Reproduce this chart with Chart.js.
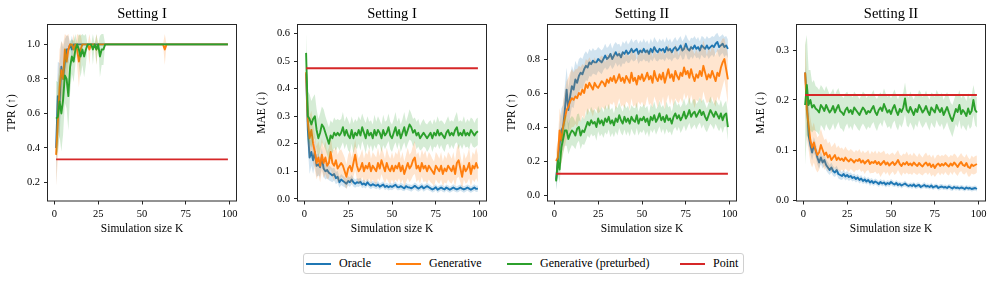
<!DOCTYPE html>
<html><head><meta charset="utf-8">
<script src="https://cdn.jsdelivr.net/npm/chart.js@4.4.0/dist/chart.umd.min.js"></script>
<style>
html,body{margin:0;padding:0;background:#fff;}
body{width:997px;height:283px;position:relative;overflow:hidden;font-family:"Liberation Serif","Times New Roman",serif;}
canvas{position:absolute;top:0;}
#legend{position:absolute;left:302.5px;top:253px;width:441px;height:21px;border:1px solid #d0d0d0;border-radius:3px;box-sizing:border-box;background:#fff;}
.item{position:absolute;top:0;height:100%;display:flex;align-items:center;font-size:12px;color:#000;white-space:nowrap;}
.item .ln{display:inline-block;width:25px;height:2px;margin-right:8px;}
</style></head><body>
<canvas id="c0"></canvas><canvas id="c1"></canvas><canvas id="c2"></canvas><canvas id="c3"></canvas>
<div id="legend"></div>
<script>
// ---------------- data ----------------
const K = [1,2,3,4,5,6,7,8,9,10,11,12,13,14,15,16,17,18,19,20,21,22,23,24,25,26,27,28,29,30,
31,32,33,34,35,36,37,38,39,40,41,42,43,44,45,46,47,48,49,50,51,52,53,54,55,56,57,58,59,60,
61,62,63,64,65,66,67,68,69,70,71,72,73,74,75,76,77,78,79,80,81,82,83,84,85,86,87,88,89,90,
91,92,93,94,95,96,97,98,99];

const seriesNames = ['Oracle','Generative','Generative (preturbed)','Point'];
const titles = ['Setting I','Setting I','Setting II','Setting II'];
const yLabels = ['TPR (↑)','MAE (↓)','TPR (↑)','MAE (↓)'];
const xLabel = 'Simulation size K';
const xTicks = [0,25,50,75,100];
const yTicks1 = [0.2,0.4,0.6,0.8,1.0];
const yTicks2 = [0.0,0.1,0.2,0.3,0.4,0.5,0.6];
const yTicks3 = [0.0,0.2,0.4,0.6,0.8];
const yTicks4 = [0.0,0.1,0.2,0.3];

// Point estimator (constant)
const pointTPR1 = 0.334, pointMAE1 = 0.474, pointTPR2 = 0.125, pointMAE2 = 0.21;

// Setting I, TPR
const tpr1O = [0.40,0.70,0.67,0.87,0.80,0.90,0.97,0.97,1.00,0.97,
1,1,1,1,1,1,1,1,1,1, 1,1,1,1,1,1,1,1,1,1, 1,1,1,1,1,1,1,1,1,1, 1,1,1,1,1,1,1,1,1,1,
1,1,1,1,1,1,1,1,1,1, 1,1,1,1,1,1,1,1,1,1, 1,1,1,1,1,1,1,1,1,1, 1,1,1,1,1,1,1,1,1,1, 1,1,1,1,1,1,1,1,1];
const tpr1G = [0.36,0.55,0.75,0.85,0.80,0.97,0.90,0.97,1.00,1.00,
0.97,1.00,0.97,0.90,0.97,1.00,1.00,1.00,1.00,0.97,
1.00,1.00,1.00,0.97,1.00,1.00,1.00,1.00,1.00,1.00,
1,1,1,1,1,1,1,1,1,1, 1,1,1,1,1,1,1,1,1,1, 1,1,1,1,1,1,1,1,1,1,
1,1,0.97,1,1,1,1,1,1,1, 1,1,1,1,1,1,1,1,1,1, 1,1,1,1,1,1,1,1,1,1, 1,1,1,1,1,1,1,1,1];
const tpr1P = [0.57,0.58,0.67,0.60,0.68,0.82,0.80,0.70,0.87,0.93,
0.90,0.97,1.00,0.97,0.93,0.97,0.93,0.97,1.00,1.00,
1.00,0.97,1.00,0.97,1.00,0.93,0.97,0.97,1.00,1.00,
1,1,1,1,1,1,1,1,1,1, 1,1,1,1,1,1,1,1,1,1, 1,1,1,1,1,1,1,1,1,1,
1,1,1,1,1,1,1,1,1,1, 1,1,1,1,1,1,1,1,1,1, 1,1,1,1,1,1,1,1,1,1, 1,1,1,1,1,1,1,1,1];
const sd1O = [0.22,0.20,0.22,0.15,0.18,0.13,0.08,0.08,0,0.08,
0,0,0,0,0,0,0,0,0,0, 0,0,0,0,0,0,0,0,0,0, 0,0,0,0,0,0,0,0,0,0, 0,0,0,0,0,0,0,0,0,0,
0,0,0,0,0,0,0,0,0,0, 0,0,0,0,0,0,0,0,0,0, 0,0,0,0,0,0,0,0,0,0, 0,0,0,0,0,0,0,0,0,0, 0,0,0,0,0,0,0,0,0];
const sd1G = [0.18,0.22,0.22,0.17,0.20,0.09,0.15,0.09,0,0,
0.09,0,0.09,0.15,0.09,0,0,0,0,0.09,
0,0,0,0.09,0,0,0,0,0,0,
0,0,0,0,0,0,0,0,0,0, 0,0,0,0,0,0,0,0,0,0, 0,0,0,0,0,0,0,0,0,0,
0,0,0.09,0,0,0,0,0,0,0, 0,0,0,0,0,0,0,0,0,0, 0,0,0,0,0,0,0,0,0,0, 0,0,0,0,0,0,0,0,0];
const sd1P = [0.22,0.20,0.20,0.22,0.20,0.16,0.17,0.20,0.15,0.10,
0.12,0.09,0,0.09,0.12,0.09,0.12,0.09,0,0,
0,0.09,0,0.09,0,0.12,0.09,0.09,0,0,
0,0,0,0,0,0,0,0,0,0, 0,0,0,0,0,0,0,0,0,0, 0,0,0,0,0,0,0,0,0,0,
0,0,0,0,0,0,0,0,0,0, 0,0,0,0,0,0,0,0,0,0, 0,0,0,0,0,0,0,0,0,0, 0,0,0,0,0,0,0,0,0];

// Setting I, MAE
const mae1O = [0.455,0.25,0.15,0.17,0.14,0.17,0.12,0.125,0.115,0.15,
0.11,0.10,0.105,0.095,0.09,0.085,0.09,0.075,0.08,0.06,
0.07,0.065,0.06,0.055,0.065,0.06,0.07,0.06,0.055,0.06,
0.058,0.062,0.052,0.056,0.05,0.06,0.052,0.048,0.053,0.05,
0.047,0.052,0.044,0.048,0.052,0.043,0.047,0.042,0.046,0.043,
0.047,0.051,0.043,0.042,0.046,0.042,0.038,0.046,0.042,0.041,
0.038,0.042,0.047,0.042,0.037,0.041,0.046,0.038,0.042,0.046,
0.042,0.038,0.034,0.037,0.042,0.033,0.037,0.041,0.037,0.034,
0.041,0.037,0.033,0.037,0.041,0.037,0.034,0.037,0.041,0.037,
0.034,0.037,0.041,0.037,0.033,0.037,0.041,0.036,0.037];
const mae1G = [0.46,0.28,0.22,0.25,0.20,0.17,0.13,0.15,0.12,0.16,
0.13,0.15,0.12,0.13,0.17,0.13,0.12,0.14,0.11,0.12,
0.13,0.12,0.10,0.08,0.11,0.12,0.10,0.13,0.16,0.12,
0.10,0.11,0.13,0.10,0.12,0.11,0.13,0.10,0.12,0.11,
0.10,0.13,0.11,0.14,0.12,0.10,0.13,0.11,0.10,0.12,
0.10,0.12,0.11,0.13,0.10,0.12,0.09,0.11,0.13,0.11,
0.12,0.14,0.15,0.11,0.12,0.10,0.13,0.11,0.12,0.10,
0.12,0.11,0.10,0.09,0.12,0.11,0.10,0.12,0.09,0.11,
0.10,0.12,0.11,0.10,0.12,0.09,0.13,0.14,0.11,0.08,
0.12,0.10,0.11,0.13,0.09,0.12,0.11,0.13,0.11];
const mae1P = [0.53,0.30,0.29,0.27,0.29,0.30,0.25,0.22,0.24,0.27,
0.26,0.24,0.22,0.20,0.23,0.22,0.24,0.23,0.24,0.23,
0.24,0.26,0.23,0.25,0.23,0.22,0.25,0.22,0.24,0.23,
0.25,0.23,0.26,0.24,0.22,0.25,0.23,0.24,0.22,0.25,
0.23,0.25,0.24,0.22,0.25,0.23,0.24,0.26,0.23,0.22,
0.24,0.26,0.23,0.25,0.22,0.24,0.26,0.23,0.25,0.27,
0.26,0.24,0.25,0.23,0.24,0.22,0.23,0.24,0.23,0.22,
0.23,0.24,0.22,0.24,0.23,0.25,0.23,0.24,0.23,0.22,
0.24,0.25,0.23,0.24,0.23,0.25,0.26,0.23,0.24,0.23,
0.25,0.23,0.24,0.23,0.25,0.24,0.23,0.24,0.245];
const sd2O = [0.06,0.07,0.06,0.05,0.05,0.045,0.04,0.04,0.035,0.035,
0.03,0.03,0.03,0.028,0.026,0.025,0.024,0.022,0.022,0.02,
0.02,0.019,0.018,0.018,0.017,0.017,0.016,0.016,0.015,0.015,
0.015,0.014,0.014,0.014,0.013,0.013,0.013,0.013,0.012,0.012,
0.012,0.013,0.012,0.011,0.012,0.012,0.011,0.012,0.013,0.012,
0.011,0.012,0.012,0.011,0.012,0.013,0.011,0.012,0.011,0.012,
0.012,0.011,0.012,0.013,0.011,0.012,0.011,0.012,0.012,0.011,
0.012,0.011,0.011,0.012,0.011,0.012,0.011,0.011,0.012,0.011,
0.011,0.012,0.011,0.011,0.012,0.011,0.011,0.012,0.011,0.011,
0.012,0.011,0.011,0.012,0.011,0.011,0.012,0.011,0.011];
const sd2G = [0.05,0.08,0.08,0.07,0.07,0.065,0.06,0.06,0.06,0.06,
0.055,0.06,0.05,0.055,0.06,0.05,0.055,0.05,0.05,0.055,
0.05,0.045,0.05,0.045,0.05,0.055,0.05,0.05,0.055,0.05,
0.045,0.05,0.05,0.045,0.05,0.05,0.055,0.045,0.05,0.05,
0.05,0.055,0.045,0.05,0.05,0.045,0.055,0.05,0.045,0.05,
0.045,0.05,0.05,0.055,0.045,0.05,0.045,0.05,0.055,0.05,
0.05,0.055,0.06,0.05,0.05,0.045,0.05,0.05,0.055,0.045,
0.05,0.05,0.045,0.045,0.05,0.05,0.045,0.05,0.045,0.05,
0.045,0.05,0.05,0.045,0.05,0.045,0.055,0.06,0.05,0.045,
0.05,0.045,0.05,0.055,0.045,0.05,0.05,0.055,0.05];
const sd2P = [0.07,0.09,0.09,0.085,0.08,0.08,0.075,0.07,0.07,0.065,
0.065,0.06,0.06,0.06,0.055,0.055,0.055,0.055,0.05,0.055,
0.05,0.055,0.05,0.05,0.055,0.05,0.05,0.055,0.05,0.05,
0.05,0.055,0.05,0.05,0.055,0.05,0.05,0.045,0.05,0.055,
0.05,0.05,0.045,0.05,0.055,0.05,0.045,0.05,0.05,0.05,
0.05,0.055,0.05,0.045,0.05,0.05,0.055,0.05,0.05,0.055,
0.05,0.05,0.045,0.05,0.05,0.045,0.05,0.05,0.045,0.05,
0.05,0.045,0.05,0.05,0.045,0.05,0.05,0.045,0.05,0.05,
0.045,0.05,0.05,0.045,0.05,0.05,0.055,0.05,0.045,0.05,
0.05,0.045,0.05,0.05,0.045,0.05,0.045,0.05,0.05];

// Setting II, TPR
const tpr2O = [0.09,0.20,0.30,0.38,0.40,0.50,0.62,0.50,0.58,0.64,
0.62,0.68,0.66,0.70,0.72,0.71,0.74,0.76,0.75,0.78,
0.77,0.79,0.78,0.78,0.80,0.79,0.78,0.80,0.82,0.80,
0.81,0.83,0.80,0.82,0.84,0.82,0.83,0.81,0.84,0.83,
0.85,0.83,0.84,0.86,0.84,0.85,0.86,0.83,0.85,0.84,
0.86,0.84,0.85,0.83,0.86,0.84,0.87,0.85,0.84,0.86,
0.85,0.86,0.84,0.87,0.85,0.86,0.84,0.86,0.87,0.85,
0.86,0.88,0.85,0.86,0.89,0.86,0.85,0.87,0.86,0.88,
0.86,0.87,0.85,0.88,0.87,0.86,0.88,0.86,0.87,0.88,
0.87,0.89,0.90,0.87,0.88,0.89,0.87,0.88,0.86];
const tpr2G = [0.20,0.22,0.38,0.32,0.40,0.45,0.50,0.52,0.55,0.57,
0.56,0.58,0.57,0.60,0.59,0.62,0.60,0.65,0.63,0.66,
0.64,0.62,0.66,0.64,0.63,0.65,0.67,0.66,0.64,0.68,
0.66,0.69,0.67,0.70,0.66,0.68,0.71,0.67,0.69,0.66,
0.70,0.68,0.66,0.72,0.67,0.69,0.65,0.70,0.68,0.71,
0.67,0.69,0.72,0.68,0.70,0.66,0.73,0.69,0.67,0.71,
0.68,0.72,0.66,0.70,0.74,0.69,0.71,0.67,0.73,0.70,
0.68,0.72,0.70,0.75,0.71,0.73,0.69,0.74,0.70,0.67,
0.71,0.69,0.73,0.70,0.76,0.72,0.68,0.71,0.69,0.73,
0.70,0.67,0.72,0.70,0.75,0.78,0.80,0.74,0.68];
const tpr2P = [0.08,0.20,0.15,0.28,0.33,0.38,0.38,0.33,0.36,0.38,
0.37,0.35,0.39,0.40,0.35,0.38,0.37,0.40,0.43,0.41,
0.44,0.42,0.43,0.40,0.45,0.42,0.44,0.41,0.45,0.43,
0.46,0.42,0.44,0.41,0.45,0.43,0.47,0.44,0.42,0.46,
0.43,0.45,0.42,0.46,0.44,0.43,0.47,0.42,0.45,0.44,
0.46,0.43,0.45,0.41,0.46,0.44,0.47,0.43,0.45,0.48,
0.44,0.46,0.43,0.47,0.44,0.45,0.42,0.46,0.48,0.45,
0.47,0.44,0.46,0.49,0.45,0.47,0.50,0.46,0.48,0.49,
0.46,0.48,0.50,0.47,0.49,0.46,0.44,0.47,0.50,0.48,
0.46,0.49,0.47,0.45,0.48,0.44,0.47,0.48,0.40];
const sd3O = [0.06,0.10,0.12,0.13,0.13,0.14,0.13,0.13,0.12,0.12,
0.11,0.11,0.10,0.10,0.09,0.09,0.09,0.085,0.08,0.08,
0.075,0.075,0.07,0.075,0.07,0.07,0.07,0.065,0.07,0.065,
0.065,0.065,0.06,0.065,0.06,0.065,0.06,0.06,0.065,0.06,
0.06,0.055,0.06,0.06,0.055,0.06,0.055,0.06,0.06,0.055,
0.06,0.055,0.06,0.055,0.06,0.055,0.06,0.06,0.055,0.06,
0.055,0.06,0.055,0.06,0.055,0.06,0.055,0.055,0.06,0.055,
0.06,0.055,0.055,0.06,0.055,0.06,0.055,0.055,0.06,0.055,
0.055,0.06,0.055,0.055,0.06,0.055,0.055,0.06,0.055,0.055,
0.06,0.055,0.055,0.06,0.055,0.055,0.06,0.055,0.055];
const sd3G = [0.07,0.10,0.13,0.14,0.15,0.16,0.17,0.17,0.17,0.17,
0.16,0.16,0.17,0.16,0.16,0.15,0.16,0.15,0.16,0.15,
0.15,0.16,0.15,0.14,0.15,0.16,0.15,0.15,0.14,0.15,
0.16,0.15,0.14,0.15,0.16,0.15,0.14,0.15,0.16,0.15,
0.15,0.14,0.16,0.15,0.15,0.16,0.14,0.15,0.15,0.16,
0.15,0.16,0.14,0.15,0.16,0.15,0.15,0.14,0.16,0.15,
0.15,0.14,0.16,0.15,0.15,0.16,0.14,0.15,0.16,0.15,
0.14,0.15,0.16,0.15,0.15,0.14,0.16,0.15,0.15,0.16,
0.15,0.14,0.15,0.16,0.15,0.15,0.14,0.16,0.15,0.15,
0.16,0.15,0.14,0.15,0.15,0.14,0.12,0.13,0.15];
const sd3P = [0.05,0.07,0.08,0.09,0.09,0.09,0.09,0.09,0.09,0.085,
0.085,0.08,0.085,0.08,0.08,0.08,0.075,0.08,0.08,0.075,
0.08,0.075,0.075,0.08,0.075,0.075,0.08,0.075,0.08,0.075,
0.075,0.08,0.075,0.07,0.075,0.08,0.075,0.075,0.07,0.075,
0.08,0.075,0.075,0.07,0.075,0.08,0.075,0.07,0.075,0.075,
0.075,0.08,0.075,0.07,0.075,0.075,0.08,0.075,0.07,0.075,
0.075,0.07,0.075,0.08,0.075,0.075,0.07,0.075,0.08,0.075,
0.07,0.075,0.075,0.08,0.075,0.07,0.075,0.075,0.08,0.075,
0.075,0.07,0.075,0.08,0.075,0.075,0.07,0.075,0.08,0.075,
0.075,0.07,0.075,0.075,0.08,0.075,0.07,0.075,0.08];

// Setting II, MAE
const mae2O = [0.255,0.20,0.13,0.11,0.095,0.11,0.10,0.085,0.075,0.085,
0.075,0.08,0.07,0.065,0.06,0.065,0.058,0.055,0.06,0.052,
0.05,0.048,0.052,0.047,0.05,0.046,0.048,0.044,0.046,0.042,
0.045,0.04,0.043,0.038,0.041,0.037,0.04,0.035,0.038,0.034,
0.037,0.035,0.032,0.036,0.033,0.035,0.031,0.034,0.032,0.036,
0.033,0.031,0.034,0.03,0.032,0.029,0.031,0.033,0.03,0.028,
0.03,0.028,0.031,0.027,0.029,0.03,0.026,0.028,0.03,0.027,
0.028,0.026,0.029,0.025,0.027,0.028,0.024,0.026,0.027,0.025,
0.026,0.024,0.027,0.025,0.023,0.026,0.024,0.025,0.023,0.025,
0.024,0.022,0.025,0.023,0.024,0.022,0.023,0.024,0.022];
const mae2G = [0.255,0.18,0.15,0.12,0.105,0.115,0.10,0.09,0.095,0.11,
0.10,0.09,0.095,0.085,0.09,0.08,0.085,0.09,0.08,0.085,
0.08,0.083,0.078,0.085,0.08,0.077,0.082,0.079,0.075,0.08,
0.078,0.082,0.075,0.079,0.073,0.077,0.08,0.072,0.076,0.074,
0.078,0.072,0.076,0.07,0.074,0.078,0.071,0.075,0.069,0.073,
0.076,0.07,0.074,0.08,0.072,0.068,0.074,0.071,0.076,0.07,
0.073,0.069,0.075,0.071,0.068,0.074,0.07,0.067,0.072,0.075,
0.069,0.073,0.066,0.071,0.064,0.07,0.073,0.068,0.072,0.069,
0.074,0.07,0.067,0.073,0.069,0.075,0.071,0.066,0.072,0.076,
0.07,0.068,0.074,0.066,0.064,0.071,0.068,0.07,0.072];
const mae2P = [0.19,0.23,0.19,0.20,0.185,0.19,0.183,0.18,0.175,0.19,
0.185,0.178,0.19,0.182,0.175,0.18,0.188,0.175,0.183,0.19,
0.178,0.175,0.17,0.18,0.185,0.175,0.18,0.172,0.185,0.18,
0.175,0.17,0.178,0.185,0.18,0.172,0.178,0.175,0.182,0.188,
0.176,0.17,0.18,0.185,0.178,0.192,0.183,0.175,0.18,0.172,
0.183,0.19,0.178,0.17,0.182,0.176,0.185,0.203,0.18,0.175,
0.186,0.178,0.17,0.182,0.176,0.19,0.183,0.175,0.18,0.188,
0.177,0.17,0.185,0.18,0.175,0.19,0.182,0.176,0.184,0.17,
0.178,0.186,0.175,0.165,0.158,0.17,0.182,0.176,0.19,0.172,
0.18,0.175,0.168,0.183,0.172,0.178,0.20,0.18,0.175];
const sd4O = [0.015,0.02,0.02,0.018,0.016,0.016,0.015,0.014,0.013,0.013,
0.012,0.012,0.011,0.011,0.01,0.01,0.01,0.009,0.009,0.009,
0.009,0.008,0.008,0.008,0.008,0.008,0.007,0.007,0.007,0.007,
0.007,0.007,0.007,0.006,0.007,0.006,0.006,0.007,0.006,0.006,
0.006,0.006,0.006,0.006,0.006,0.006,0.006,0.006,0.006,0.006,
0.006,0.005,0.006,0.006,0.005,0.006,0.005,0.006,0.005,0.005,
0.005,0.006,0.005,0.005,0.006,0.005,0.005,0.005,0.006,0.005,
0.005,0.005,0.006,0.005,0.005,0.005,0.005,0.006,0.005,0.005,
0.005,0.005,0.005,0.006,0.005,0.005,0.005,0.005,0.005,0.005,
0.005,0.005,0.005,0.005,0.005,0.005,0.005,0.005,0.005];
const sd4G = [0.07,0.06,0.05,0.045,0.04,0.04,0.038,0.035,0.035,0.033,
0.03,0.03,0.028,0.028,0.027,0.026,0.025,0.025,0.024,0.024,
0.023,0.022,0.022,0.022,0.021,0.021,0.02,0.02,0.02,0.02,
0.019,0.02,0.019,0.02,0.021,0.019,0.02,0.019,0.022,0.02,
0.021,0.02,0.022,0.024,0.022,0.021,0.02,0.019,0.021,0.02,
0.019,0.02,0.021,0.02,0.019,0.02,0.019,0.02,0.021,0.019,
0.02,0.019,0.02,0.019,0.018,0.02,0.019,0.018,0.019,0.02,
0.019,0.018,0.019,0.02,0.018,0.019,0.018,0.019,0.018,0.019,
0.018,0.019,0.018,0.017,0.019,0.018,0.019,0.018,0.017,0.018,
0.018,0.017,0.018,0.019,0.017,0.018,0.017,0.018,0.017];
const sd4P = [0.12,0.10,0.07,0.06,0.05,0.05,0.045,0.045,0.045,0.04,
0.04,0.04,0.038,0.038,0.036,0.036,0.035,0.035,0.035,0.034,
0.034,0.033,0.034,0.033,0.032,0.033,0.032,0.033,0.032,0.032,
0.033,0.032,0.031,0.032,0.033,0.032,0.031,0.032,0.031,0.032,
0.031,0.032,0.031,0.03,0.032,0.031,0.03,0.031,0.032,0.031,
0.03,0.031,0.032,0.031,0.03,0.031,0.03,0.032,0.031,0.03,
0.031,0.03,0.031,0.03,0.031,0.03,0.032,0.031,0.03,0.031,
0.03,0.031,0.03,0.032,0.031,0.03,0.031,0.03,0.031,0.03,
0.031,0.03,0.031,0.03,0.032,0.031,0.03,0.031,0.03,0.031,
0.03,0.031,0.03,0.031,0.03,0.031,0.03,0.031,0.03];

// ---------------- styling ----------------
const FONT = "'Liberation Serif','Times New Roman',serif";
const COLORS = ['#1f77b4','#ff7f0e','#2ca02c','#d62728'];
const BANDS = ['rgba(31,119,180,0.2)','rgba(255,127,14,0.2)','rgba(44,160,44,0.2)'];

const panels = [
  {means:[tpr1O,tpr1G,tpr1P], sds:[sd1O,sd1G,sd1P], point:pointTPR1, ymin:0.093, ymax:1.115, yticks:yTicks1, canvasLeft:0},
  {means:[mae1O,mae1G,mae1P], sds:[sd2O,sd2G,sd2P], point:pointMAE1, ymin:-0.008, ymax:0.633, yticks:yTicks2, canvasLeft:250},
  {means:[tpr2O,tpr2G,tpr2P], sds:[sd3O,sd3G,sd3P], point:pointTPR2, ymin:-0.035, ymax:1.003, yticks:yTicks3, canvasLeft:500},
  {means:[mae2O,mae2G,mae2P], sds:[sd4O,sd4G,sd4P], point:pointMAE2, ymin:-0.002, ymax:0.351, yticks:yTicks4, canvasLeft:749}
];

const YW = 47.5, PW = 189, RP = 8.5, XH = 36, CH = 237;

const framePlugin = {
  id:'frame',
  afterDraw(chart){
    const a = chart.chartArea, ctx = chart.ctx;
    ctx.save();
    ctx.strokeStyle = '#262626';
    ctx.lineWidth = 1;
    ctx.strokeRect(a.left, a.top, a.right - a.left, a.bottom - a.top);
    ctx.restore();
  }
};

panels.forEach((p, idx) => {
  const cv = document.getElementById('c' + idx);
  const w = YW + PW + RP;
  cv.width = w; cv.height = CH;
  cv.style.width = w + 'px'; cv.style.height = CH + 'px';
  cv.style.left = p.canvasLeft + 'px';

  const datasets = [];
  const lineOrder = [6,4,2], bandOrder = [5,3,1];
  p.means.forEach((m, s) => {
    const sd = p.sds[s];
    datasets.push({
      data: m.map((v,i)=>({x:K[i], y:v - sd[i]})),
      borderColor:'rgba(0,0,0,0)', borderWidth:0, pointRadius:0, fill:false, order:bandOrder[s]
    });
    datasets.push({
      data: m.map((v,i)=>({x:K[i], y:v + sd[i]})),
      borderColor:'rgba(0,0,0,0)', borderWidth:0, pointRadius:0, fill:'-1',
      backgroundColor:BANDS[s], order:bandOrder[s]
    });
    datasets.push({
      label: seriesNames[s],
      data: m.map((v,i)=>({x:K[i], y:v})),
      borderColor:COLORS[s], borderWidth:1.9, pointRadius:0, fill:false,
      borderJoinStyle:'round', order:lineOrder[s]
    });
  });
  datasets.push({
    label: seriesNames[3],
    data: [{x:K[0], y:p.point}, {x:K[K.length-1], y:p.point}],
    borderColor:COLORS[3], borderWidth:1.9, pointRadius:0, fill:false, order:0
  });

  new Chart(cv, {
    type:'line',
    data:{datasets},
    options:{
      responsive:false, animation:false, devicePixelRatio:1, events:[],
      layout:{padding:{left:0, right:RP, top:0, bottom:0}},
      elements:{line:{tension:0}},
      plugins:{
        legend:{display:false}, tooltip:{enabled:false},
        title:{display:true, text:titles[idx], color:'#000', fullSize:false,
          font:{family:FONT, size:14.5, weight:'normal'}, padding:{top:5.3, bottom:1.8}}
      },
      scales:{
        x:{
          type:'linear', min:-3.9, max:103.9,
          afterBuildTicks:(s)=>{ s.ticks = xTicks.map(v=>({value:v})); },
          afterFit:(s)=>{ s.height = XH; s.paddingLeft = 0; s.paddingRight = 0; },
          grid:{display:true, drawOnChartArea:false, drawTicks:true, tickLength:3.5, color:'#262626', lineWidth:1},
          border:{display:false},
          ticks:{color:'#000', font:{family:FONT, size:10.5}, padding:3, maxRotation:0, autoSkip:false,
            callback:(v)=>String(v)},
          title:{display:true, text:xLabel, color:'#000', font:{family:FONT, size:11.5}, padding:{top:0, bottom:1.1}}
        },
        y:{
          type:'linear', min:p.ymin, max:p.ymax,
          afterBuildTicks:(s)=>{ s.ticks = p.yticks.map(v=>({value:v})); },
          afterFit:(s)=>{ s.width = YW; s.paddingTop = 0; s.paddingBottom = 0; },
          grid:{display:true, drawOnChartArea:false, drawTicks:true, tickLength:3.5, color:'#262626', lineWidth:1},
          border:{display:false},
          ticks:{color:'#000', font:{family:FONT, size:10.5}, padding:4, autoSkip:false,
            callback:(v)=>Number(v).toFixed(1)},
          title:{display:true, text:yLabels[idx], color:'#000', font:{family:FONT, size:11.5}, padding:{top:4.6, bottom:0}}
        }
      }
    },
    plugins:[framePlugin]
  });
});

// ---------------- legend ----------------
const legendOffsets = [2.5, 92.5, 203.5, 376.5];
const lg = document.getElementById('legend');
seriesNames.forEach((n, i) => {
  const it = document.createElement('div');
  it.className = 'item';
  it.style.left = legendOffsets[i] + 'px';
  const ln = document.createElement('span');
  ln.className = 'ln'; ln.style.background = COLORS[i];
  const tx = document.createElement('span');
  tx.textContent = n;
  it.appendChild(ln); it.appendChild(tx);
  lg.appendChild(it);
});
</script>
</body></html>
